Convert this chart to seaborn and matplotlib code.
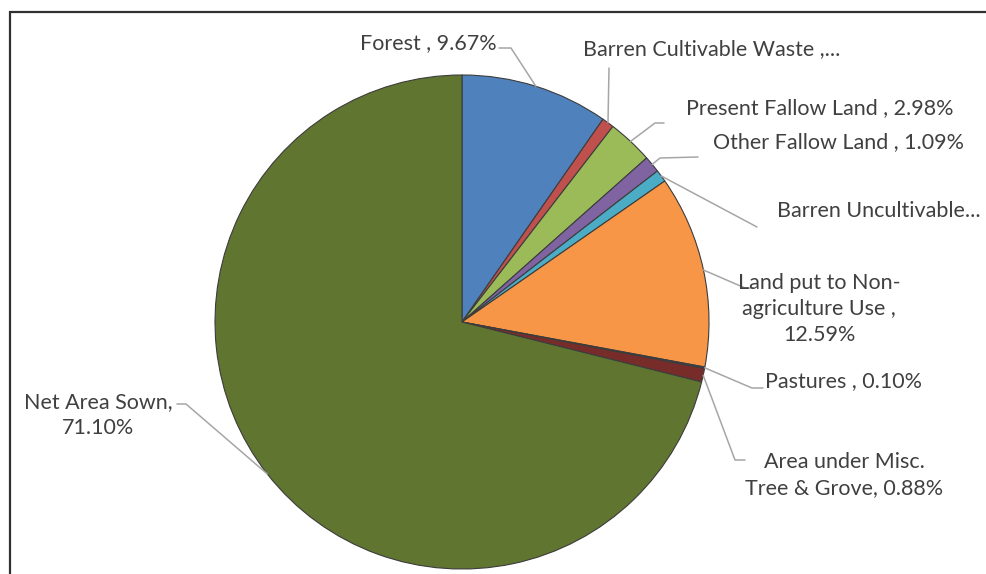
import matplotlib
matplotlib.use("Agg")
import matplotlib.pyplot as plt
import seaborn as sns
import numpy as np
from matplotlib.patches import Rectangle

# data
categories = ["Forest", "Barren Cultivable Waste", "Present Fallow Land",
              "Other Fallow Land", "Barren Uncultivable", "Land put to Non-agriculture Use",
              "Pastures", "Area under Misc. Tree & Grove", "Net Area Sown"]
shares = [9.67, 0.79, 2.98, 1.09, 0.80, 12.59, 0.10, 0.88, 71.10]
label_texts = ["Forest , 9.67%", "Barren Cultivable Waste ,...", "Present Fallow Land , 2.98%",
               "Other Fallow Land , 1.09%", "Barren Uncultivable...",
               "Land put to Non-\nagriculture Use ,\n12.59%", "Pastures , 0.10%",
               "Area under Misc.\nTree & Grove, 0.88%", "Net Area Sown,\n71.10%"]
slice_colors = ["#4F81BD", "#C0504D", "#9BBB59", "#8064A2", "#4BACC6",
                "#F79646", "#2C4D75", "#772C2A", "#5F7530"]

sns.set_theme(style="white")
plt.rcParams['font.family'] = ['Lato', 'DejaVu Sans']

W, H = 987, 574
fig = plt.figure(figsize=(W / 100, H / 100), dpi=100)
fig.patch.set_facecolor("white")

# pie centre / radius in pixels
cx, cy, R = 462, 322, 247
ax = fig.add_axes([(cx - R) / W, (H - cy - R) / H, 2 * R / W, 2 * R / H])

wedges, _ = ax.pie(shares, colors=sns.color_palette(slice_colors), startangle=90,
                   counterclock=False, radius=1,
                   wedgeprops=dict(edgecolor="#3c3c3c", linewidth=0.8))
ax.set_xlim(-1, 1)
ax.set_ylim(-1, 1)
ax.axis("off")

def px(x, y):
    return ((x - cx) / R, (cy - y) / R)

# label layout: text pos (px), ha, attach point, elbow point
layout = [
    ((497, 43), "right", (499, 48), (511, 48)),
    ((583, 49), "left", (609, 68), (609, 68)),
    ((686, 108), "left", (664, 123), (655, 123)),
    ((713, 142), "left", (698, 157), (660, 158)),
    ((777, 211), "left", (757, 227), (757, 227)),
    ((819, 309), "center", (753, 288), (745, 288)),
    ((765, 381), "left", (763, 388), (752, 388)),
    ((844, 475), "center", (745, 460), (735, 460)),
    ((98, 415), "center", (177, 404), (186, 404)),
]

for w, txt, (tpos, ha, attach, elbow) in zip(wedges, label_texts, layout):
    mid = np.deg2rad((w.theta1 + w.theta2) / 2)
    ex, ey = np.cos(mid), np.sin(mid)
    a = px(*attach)
    e = px(*elbow)
    ax.plot([a[0], e[0], ex], [a[1], e[1], ey], color="#a6a6a6", lw=1.1,
            clip_on=False, zorder=1)
    tx, ty = px(*tpos)
    ax.text(tx, ty, txt, ha=ha, va="center", multialignment="center",
            fontsize=15.5, color="#404040", clip_on=False, linespacing=1.4)

# outer chart frame (cropped at right and bottom)
fig.add_artist(Rectangle((10 / W, -0.1), 1.2, (H - 12) / H + 0.1,
                         transform=fig.transFigure, fill=False,
                         edgecolor="#303030", linewidth=1.6))

fig.savefig("out.png", dpi=100, facecolor="white")
